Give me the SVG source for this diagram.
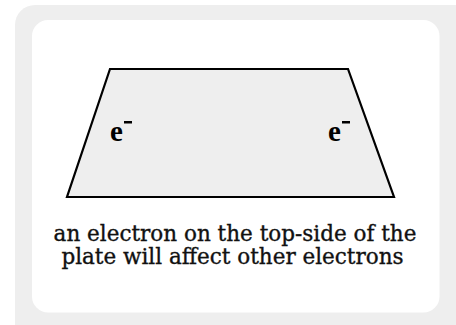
<svg xmlns="http://www.w3.org/2000/svg" width="456" height="325" viewBox="0 0 456 325">
<style>
.cap{font-family:"DejaVu Serif",serif;font-size:21.5px;fill:#111;stroke:#111;stroke-width:0.35px;text-anchor:middle}
.e{font-family:"Liberation Serif",serif;font-weight:bold;font-size:29px;fill:#000}
</style>
<rect x="15" y="5" width="460" height="340" rx="20" fill="#eeeeee"/>
<rect x="32" y="20" width="407.5" height="292.5" rx="16" fill="#ffffff"/>
<g id="plate">
<polygon points="110,69 348,69 394,197 67,197" fill="#eeeeee" stroke="#000" stroke-width="2.2"/>
</g>
<g id="electron-left"><text class="e" x="110" y="141">e</text><rect x="124" y="121" width="8" height="2.5" fill="#000"/></g>
<g id="electron-right"><text class="e" x="328" y="141">e</text><rect x="342" y="121" width="8" height="2.5" fill="#000"/></g>
<g id="caption">
<text class="cap" x="235" y="241">an electron on the top-side of the</text>
<text class="cap" x="232.5" y="264">plate will affect other electrons</text>
</g>
</svg>
